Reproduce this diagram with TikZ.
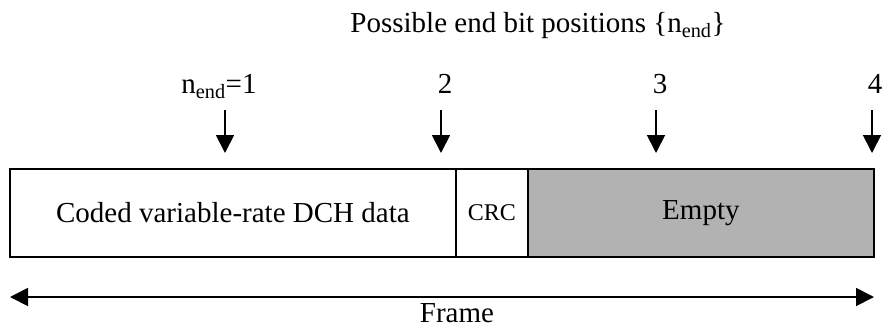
\documentclass[tikz,border=0pt]{standalone}
\usepackage{fontspec}
\setmainfont{Liberation Serif}
\usetikzlibrary{arrows.meta}
\begin{document}
\begin{tikzpicture}[x=1pt,y=-1pt,
  lbl/.style={font=\fontsize{29}{31}\selectfont, inner sep=0pt, anchor=base},
  seg/.style={draw, line width=1.8pt, minimum height=88pt, inner sep=0pt, anchor=north west, font=\fontsize{29}{31}\selectfont},
  tip/.style={Triangle[width=18pt,length=18pt]},
  pointer/.style={line width=1.8pt, -{Triangle[width=18pt,length=18pt]}}]
\useasboundingbox (0,0) rectangle (883,327);
\node[lbl] (title) at (538,32) {Possible end bit positions \{n\textsubscript{end}\}};
\node[seg, minimum width=446pt] (data) at (9,168) {Coded variable-rate DCH data};
\node[seg, minimum width=72pt, font=\fontsize{24}{26}\selectfont] (crc) at (455,168) {CRC};
\node[seg, minimum width=346pt, fill=black!30] (empty) at (527,168) {Empty};
\node[lbl] (l1) at (219,93) {n\textsubscript{end}=1};
\node[lbl] (l2) at (445,93) {2};
\node[lbl] (l3) at (660,93) {3};
\node[lbl] (l4) at (875,93) {4};
\coordinate (a1s) at (225,110); \coordinate (a1e) at (225,153);
\coordinate (a2s) at (441,110); \coordinate (a2e) at (441,153);
\coordinate (a3s) at (656,110); \coordinate (a3e) at (656,153);
\coordinate (a4s) at (872,110); \coordinate (a4e) at (872,153);
\draw[pointer] (a1s) -- (a1e);
\draw[pointer] (a2s) -- (a2e);
\draw[pointer] (a3s) -- (a3e);
\draw[pointer] (a4s) -- (a4e);
\coordinate (fl) at (10,297); \coordinate (fr) at (874,297);
\draw[line width=1.8pt, {Triangle[width=18pt,length=18pt]}-{Triangle[width=18pt,length=18pt]}] (fl) -- (fr);
\node[lbl] (frame) at (457,322) {Frame};
\end{tikzpicture}
\end{document}
